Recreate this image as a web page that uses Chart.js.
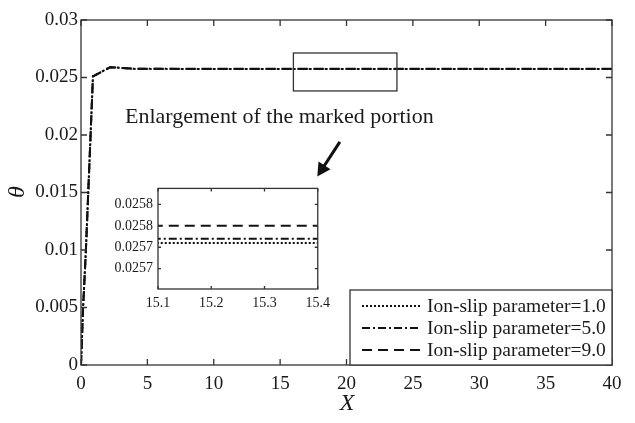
<!DOCTYPE html>
<html>
<head>
<meta charset="utf-8">
<script src="https://cdn.jsdelivr.net/npm/chart.js@4.4.1/dist/chart.umd.min.js"></script>
<style>
  html, body { margin: 0; padding: 0; background: #fff; }
  #wrap { position: relative; width: 635px; height: 423px; }
  #main { position: absolute; left: 0; top: 0; }
  #inset { position: absolute; left: 100px; top: 175px; }
</style>
</head>
<body>
<div id="wrap">
  <canvas id="main" width="635" height="423"></canvas>
  <canvas id="inset" width="236" height="140"></canvas>
</div>
<script>
// Dados (X e theta para cada ion-slip)
const xValues = [0, 0.15, 0.37, 0.9, 2.2, 4, 10, 15, 20, 25, 30, 35, 40];
const thetaSlip1 = [0, 0.0048, 0.0100, 0.0251, 0.02590, 0.025750, 0.025745, 0.025744, 0.025744, 0.025744, 0.025744, 0.025744, 0.025744];
const thetaSlip5 = [0, 0.0048, 0.0100, 0.0251, 0.02590, 0.025752, 0.025748, 0.025748, 0.025748, 0.025748, 0.025748, 0.025748, 0.025748];
const thetaSlip9 = [0, 0.0048, 0.0100, 0.0251, 0.02590, 0.025762, 0.025760, 0.025760, 0.025760, 0.025760, 0.025760, 0.025760, 0.025760];
const seriesLabels = ['Ion-slip parameter=1.0', 'Ion-slip parameter=5.0', 'Ion-slip parameter=9.0'];
const seriesDash = [[2, 2], [8, 3, 2, 3], [10, 6]];

const insetXTicks = [15.1, 15.2, 15.3, 15.4];
const insetYTicks = [0.02572, 0.02574, 0.02576, 0.02578];

// Área marcada no gráfico principal (em unidades dos eixos)
const zoomBox = { x1: 16, x2: 23.8, y1: 0.02383, y2: 0.02713 };
const arrowFrom = { x: 19.5, y: 0.0194 };
const arrowTo = { x: 17.8, y: 0.0164 };

const serif = '"Liberation Serif", "DejaVu Serif", serif';
const ink = '#1a1a1a';

function montarDatasets() {
    return [thetaSlip1, thetaSlip5, thetaSlip9].map((serie, i) => ({
        label: seriesLabels[i],
        data: xValues.map((x, k) => ({ x: x, y: serie[k] })),
        borderColor: '#111',
        borderWidth: 2,
        borderDash: seriesDash[i],
        pointRadius: 0,
        tension: 0,
        fill: false
    }));
}

// Moldura com ticks para dentro em todos os lados
const moldura = {
    id: 'moldura',
    afterDraw(chart, args, opts) {
        const { ctx, chartArea: a, scales: { x, y } } = chart;
        const L = opts.tick || 5;
        ctx.save();
        ctx.strokeStyle = '#333';
        ctx.lineWidth = 1.3;
        ctx.setLineDash([]);
        ctx.strokeRect(a.left, a.top, a.right - a.left, a.bottom - a.top);
        ctx.beginPath();
        x.ticks.forEach(t => {
            const px = x.getPixelForValue(t.value);
            ctx.moveTo(px, a.bottom); ctx.lineTo(px, a.bottom - L);
            ctx.moveTo(px, a.top); ctx.lineTo(px, a.top + L);
        });
        y.ticks.forEach(t => {
            const py = y.getPixelForValue(t.value);
            ctx.moveTo(a.left, py); ctx.lineTo(a.left + L, py);
            ctx.moveTo(a.right, py); ctx.lineTo(a.right - L, py);
        });
        ctx.stroke();
        ctx.restore();
    }
};

// Anotações do gráfico principal: retângulo, texto, seta, legenda e títulos
const anotacoes = {
    id: 'anotacoes',
    afterDraw(chart) {
        const { ctx, chartArea: a, scales: { x, y } } = chart;
        ctx.save();
        ctx.strokeStyle = '#333';
        ctx.lineWidth = 1.3;
        const bx1 = x.getPixelForValue(zoomBox.x1), bx2 = x.getPixelForValue(zoomBox.x2);
        const by1 = y.getPixelForValue(zoomBox.y2), by2 = y.getPixelForValue(zoomBox.y1);
        ctx.strokeRect(bx1, by1, bx2 - bx1, by2 - by1);

        ctx.fillStyle = ink;
        ctx.font = '22px ' + serif;
        ctx.textBaseline = 'alphabetic';
        ctx.textAlign = 'left';
        ctx.fillText('Enlargement of the marked portion', 125, 123);

        // seta
        const ax1 = x.getPixelForValue(arrowFrom.x), ay1 = y.getPixelForValue(arrowFrom.y);
        const ax2 = x.getPixelForValue(arrowTo.x), ay2 = y.getPixelForValue(arrowTo.y);
        const ang = Math.atan2(ay2 - ay1, ax2 - ax1);
        const head = 15;
        ctx.strokeStyle = '#111';
        ctx.lineWidth = 3;
        ctx.beginPath();
        ctx.moveTo(ax1, ay1);
        ctx.lineTo(ax2 - Math.cos(ang) * head * 0.8, ay2 - Math.sin(ang) * head * 0.8);
        ctx.stroke();
        ctx.fillStyle = '#111';
        ctx.beginPath();
        ctx.moveTo(ax2, ay2);
        ctx.lineTo(ax2 - head * Math.cos(ang - 0.5), ay2 - head * Math.sin(ang - 0.5));
        ctx.lineTo(ax2 - head * Math.cos(ang + 0.5), ay2 - head * Math.sin(ang + 0.5));
        ctx.closePath();
        ctx.fill();

        // legenda
        const lx = 350, ly = 290, lw = a.right - 350, lh = a.bottom - 290;
        ctx.fillStyle = '#fff';
        ctx.fillRect(lx, ly, lw, lh);
        ctx.strokeStyle = '#333';
        ctx.lineWidth = 1.3;
        ctx.strokeRect(lx, ly, lw, lh);
        ctx.font = '19.5px ' + serif;
        ctx.textBaseline = 'middle';
        seriesLabels.forEach((lab, i) => {
            const yy = 306 + i * 22;
            ctx.strokeStyle = '#111';
            ctx.lineWidth = 2;
            ctx.setLineDash(seriesDash[i]);
            ctx.beginPath();
            ctx.moveTo(362, yy);
            ctx.lineTo(421, yy);
            ctx.stroke();
            ctx.setLineDash([]);
            ctx.fillStyle = ink;
            ctx.fillText(lab, 427, yy + 1);
        });

        // títulos dos eixos
        ctx.font = 'italic 24px ' + serif;
        ctx.textAlign = 'center';
        ctx.fillText('X', 347, 404);
        ctx.translate(18, 192);
        ctx.rotate(-Math.PI / 2);
        ctx.fillText('θ', 0, 0);
        ctx.restore();
    }
};

new Chart(document.getElementById('main'), {
    type: 'line',
    data: { datasets: montarDatasets() },
    options: {
        responsive: false,
        animation: false,
        layout: { padding: { top: 20, right: 23, left: 0, bottom: 0 } },
        plugins: { legend: { display: false }, tooltip: { enabled: false }, moldura: { tick: 6 } },
        scales: {
            x: {
                type: 'linear', min: 0, max: 40,
                grid: { display: false, drawTicks: false }, border: { display: false },
                ticks: { stepSize: 5, color: ink, padding: 8, maxRotation: 0, font: { family: serif, size: 19 } },
                afterFit: s => { s.height = 58; }
            },
            y: {
                min: 0, max: 0.03,
                grid: { display: false, drawTicks: false }, border: { display: false },
                ticks: {
                    stepSize: 0.005, color: ink, padding: 3, font: { family: serif, size: 19 },
                    callback: v => String(+v.toFixed(3))
                },
                afterFit: s => { s.width = 81; }
            }
        }
    },
    plugins: [moldura, anotacoes]
});

new Chart(document.getElementById('inset'), {
    type: 'line',
    data: { datasets: montarDatasets() },
    options: {
        responsive: false,
        animation: false,
        layout: { padding: { top: 10, right: 11, left: 0, bottom: 0 } },
        plugins: { legend: { display: false }, tooltip: { enabled: false }, moldura: { tick: 3 } },
        scales: {
            x: {
                type: 'linear', min: 15.1, max: 15.4,
                grid: { display: false, drawTicks: false }, border: { display: false },
                afterBuildTicks: s => { s.ticks = insetXTicks.map(v => ({ value: v })); },
                ticks: { color: ink, padding: 6, maxRotation: 0, font: { family: serif, size: 14 }, callback: v => v.toFixed(1) },
                afterFit: s => { s.height = 26; }
            },
            y: {
                min: 0.025701, max: 0.025795,
                grid: { display: false, drawTicks: false }, border: { display: false },
                afterBuildTicks: s => { s.ticks = insetYTicks.map(v => ({ value: v })); },
                ticks: { color: ink, padding: 5, font: { family: serif, size: 14 }, callback: v => v.toFixed(4) },
                afterFit: s => { s.width = 58; }
            }
        }
    },
    plugins: [moldura]
});
</script>
</body>
</html>
